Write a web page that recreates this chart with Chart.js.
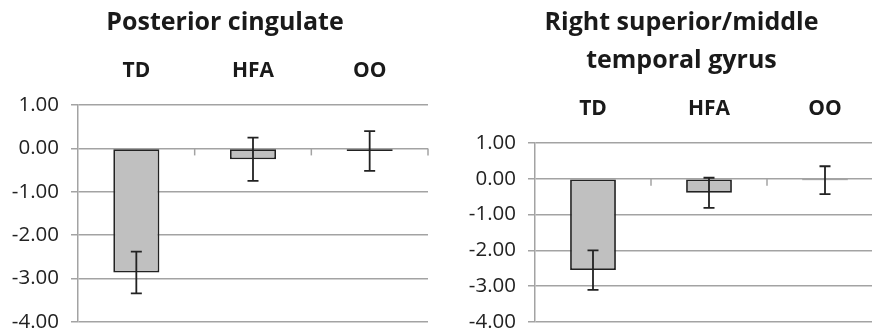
<!DOCTYPE html>
<html lang="en">
  <head>
    <meta charset="UTF-8" />
    <title>Posterior cingulate / temporal gyrus</title>
    <script src="https://cdn.jsdelivr.net/npm/chart.js"></script>
    <style>
      html, body { margin: 0; padding: 0; background: #fff; }
      body { width: 872px; height: 335px; overflow: hidden; position: relative; }
      #leftChart { position: absolute; left: 0; top: 0; }
      #rightChart { position: absolute; left: 436px; top: 0; }
    </style>
  </head>
  <body>
    <canvas id="leftChart" width="450" height="335"></canvas>
    <canvas id="rightChart" width="491" height="335"></canvas>

    <script>
      // values
      const groups = ["TD", "HFA", "OO"];
      const cingulateMeans = [-2.86, -0.25, -0.06];
      const cingulateErrors = [0.48, 0.5, 0.46];
      const temporalMeans = [-2.55, -0.39, -0.04];
      const temporalErrors = [0.55, 0.42, 0.39];
      const yMin = -4;
      const yMax = 1;

      const gridColor = "#a3a3a3";
      const inkColor = "#1a1a1a";

      // error bars drawn from the y scale
      const errorBars = {
        id: "errorBars",
        afterDatasetsDraw(chart, args, opts) {
          const ctx = chart.ctx;
          const y = chart.scales.y;
          const meta = chart.getDatasetMeta(0);
          const means = chart.data.datasets[0].data;
          ctx.save();
          ctx.strokeStyle = "#222";
          ctx.lineWidth = 1.8;
          meta.data.forEach((bar, i) => {
            const hi = y.getPixelForValue(means[i] + opts.errors[i]);
            const lo = y.getPixelForValue(means[i] - opts.errors[i]);
            ctx.beginPath();
            ctx.moveTo(bar.x, hi);
            ctx.lineTo(bar.x, lo);
            ctx.moveTo(bar.x - 5.5, hi);
            ctx.lineTo(bar.x + 5.5, hi);
            ctx.moveTo(bar.x - 5.5, lo);
            ctx.lineTo(bar.x + 5.5, lo);
            ctx.stroke();
          });
          ctx.restore();
        },
      };

      // small category tick marks hanging under the zero line
      const zeroTicks = {
        id: "zeroTicks",
        afterDraw(chart) {
          const ctx = chart.ctx;
          const x = chart.scales.x;
          const y0 = chart.scales.y.getPixelForValue(0);
          ctx.save();
          ctx.strokeStyle = gridColor;
          ctx.lineWidth = 1.5;
          for (let i = 0; i < groups.length; i++) {
            const px = x.getPixelForValue(i + 0.5);
            ctx.beginPath();
            ctx.moveTo(px, y0);
            ctx.lineTo(px, y0 + 7);
            ctx.stroke();
          }
          ctx.restore();
        },
      };

      function makeChart(id, title, means, errors, axisWidth, spacerWidth) {
        return new Chart(document.getElementById(id), {
          type: "bar",
          data: {
            labels: groups,
            datasets: [
              {
                data: means,
                backgroundColor: "#c0c0c0",
                borderColor: "#222",
                borderWidth: 1.8,
                borderSkipped: false,
                categoryPercentage: 1,
                barPercentage: 0.395,
              },
            ],
          },
          options: {
            responsive: false,
            animation: false,
            layout: { padding: { top: 0, right: 0, bottom: 13, left: 0 } },
            plugins: {
              legend: { display: false },
              tooltip: { enabled: false },
              title: {
                display: true,
                text: title,
                color: inkColor,
                font: { family: "Open Sans", size: 25, weight: "bold", lineHeight: 38 / 25 },
                padding: { top: 4, bottom: 16 },
              },
              errorBars: { errors: errors },
            },
            scales: {
              x: {
                position: "top",
                grid: { display: false, drawTicks: false },
                border: { display: false },
                ticks: {
                  color: inkColor,
                  padding: 21,
                  font: { family: "Open Sans", size: 21, weight: "bold" },
                },
                afterFit(scale) {
                  scale.height = 47;
                },
              },
              y: {
                min: yMin,
                max: yMax,
                ticks: {
                  stepSize: 1,
                  color: "#222",
                  padding: 12,
                  font: { family: "Open Sans", size: 20.5 },
                  callback: (v) => Number(v).toFixed(2),
                },
                grid: { color: gridColor, lineWidth: 1.5, tickLength: 7, tickColor: gridColor },
                border: { color: gridColor, width: 1.5 },
                afterFit(scale) {
                  scale.width = axisWidth;
                  scale.paddingTop = 0;
                  scale.paddingBottom = 0;
                },
              },
              // empty right-hand axis: keeps the plot narrower than the title band
              spacer: {
                type: "linear",
                position: "right",
                min: yMin,
                max: yMax,
                grid: { display: false },
                border: { display: false },
                ticks: { display: false },
                afterFit(scale) {
                  scale.width = spacerWidth;
                  scale.paddingTop = 0;
                  scale.paddingBottom = 0;
                },
              },
            },
          },
          plugins: [errorBars, zeroTicks],
        });
      }

      makeChart("leftChart", "Posterior cingulate", cingulateMeans, cingulateErrors, 78, 22);
      makeChart("rightChart", ["Right superior/middle", "temporal gyrus"], temporalMeans, temporalErrors, 99, 44);
    </script>
  </body>
</html>
